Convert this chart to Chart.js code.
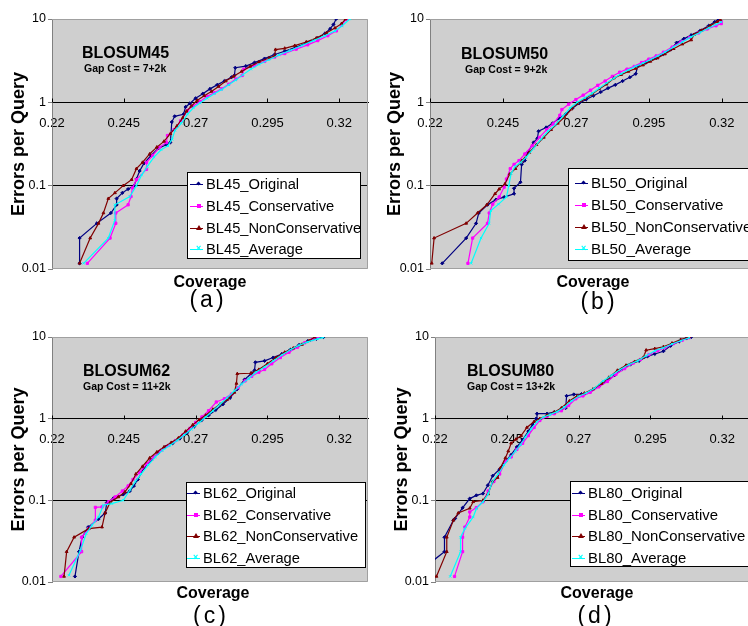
<!DOCTYPE html>
<html lang="en">
<head>
<meta charset="UTF-8">
<title>Errors per Query vs Coverage - BLOSUM matrices</title>
<script src="https://cdn.jsdelivr.net/npm/chart.js"></script>
<style>
  html, body { margin: 0; padding: 0; overflow: hidden; background: #fff; }
  body { position: relative; width: 748px; height: 626px; font-family: Arial, "Liberation Sans", sans-serif; color: #000; }
  canvas { position: absolute; }
  .lbl { position: absolute; white-space: nowrap; }
  .ptitle { font-weight: bold; font-size: 16px; line-height: 16px; }
  .gap { font-weight: bold; font-size: 10.5px; line-height: 10px; }
  .xtitle { font-weight: bold; font-size: 16px; line-height: 16px; transform: translateX(-50%); }
  .letter { font-size: 23px; line-height: 23px; letter-spacing: 3px; transform: translateX(-50%); }
  .legend { position: absolute; background: #fff; border: 1px solid #000; box-sizing: border-box; }
  .legend .row { position: absolute; left: 0; height: 20px; line-height: 20px; white-space: nowrap; }
  .legend .line { position: absolute; top: 10px; height: 1px; }
  .legend .mk { position: absolute; }
</style>
</head>
<body>
<script>
// tick labels and texts
const xTickValues = [0.22, 0.245, 0.27, 0.295, 0.32];
const xTickLabels = ['0.22', '0.245', '0.27', '0.295', '0.32'];
const yTickValues = [0.01, 0.1, 1, 10];
const yTickLabels = ['0.01', '0.1', '1', '10'];
const panelTitles = ['BLOSUM45', 'BLOSUM50', 'BLOSUM62', 'BLOSUM80'];
const gapCosts = ['Gap Cost = 7+2k', 'Gap Cost = 9+2k', 'Gap Cost = 11+2k', 'Gap Cost = 13+2k'];
const panelLetters = ['(a)', '(b)', '(c)', '(d)'];
const seriesPrefixes = ['BL45', 'BL50', 'BL62', 'BL80'];
const seriesSuffixes = ['Original', 'Conservative', 'NonConservative', 'Average'];
const xTitle = 'Coverage';
const yTitle = 'Errors per Query';

// BLOSUM45 : [coverage, errors per query]
const bl45Original = [[0.2296,0.0117],[0.2296,0.0235],[0.2356,0.0353],[0.2405,0.047],[0.2425,0.059],[0.2425,0.07],[0.2445,0.082],[0.2465,0.091],[0.2486,0.1],[0.2494,0.12],[0.2505,0.15],[0.252,0.185],[0.2545,0.23],[0.257,0.28],[0.2598,0.31],[0.2612,0.33],[0.2617,0.58],[0.2627,0.68],[0.2658,0.72],[0.2665,0.88],[0.268,0.97],[0.27,1.12],[0.2725,1.27],[0.275,1.45],[0.2775,1.62],[0.28,1.8],[0.2825,2.0],[0.2835,2.1],[0.2838,2.6],[0.2875,2.72],[0.2905,3.0],[0.294,3.35],[0.2975,3.75],[0.301,4.1],[0.305,4.6],[0.309,5.2],[0.3125,5.9],[0.315,6.7],[0.3168,7.6],[0.318,8.6],[0.3189,10]];
const bl45Conservative = [[0.2323,0.0117],[0.2402,0.0235],[0.2422,0.0353],[0.2422,0.047],[0.2465,0.059],[0.2475,0.074],[0.248,0.094],[0.2494,0.118],[0.2529,0.157],[0.2529,0.19],[0.255,0.23],[0.2575,0.29],[0.2598,0.33],[0.2602,0.4],[0.2625,0.47],[0.2648,0.6],[0.2672,0.8],[0.269,0.9],[0.2715,1.02],[0.274,1.18],[0.2765,1.3],[0.279,1.45],[0.2815,1.65],[0.284,1.9],[0.2862,2.1],[0.2868,2.5],[0.2905,2.75],[0.294,3.1],[0.2975,3.5],[0.301,3.85],[0.305,4.35],[0.309,4.9],[0.3125,5.5],[0.316,6.3],[0.319,7.2],[0.3208,8.4],[0.3225,10]];
const bl45NonConservative = [[0.2296,0.0117],[0.2333,0.0235],[0.2362,0.0353],[0.2379,0.047],[0.2396,0.07],[0.2419,0.082],[0.2448,0.1],[0.2477,0.118],[0.2494,0.16],[0.2515,0.19],[0.254,0.24],[0.2565,0.29],[0.259,0.34],[0.2612,0.42],[0.2635,0.52],[0.2655,0.65],[0.2668,0.78],[0.2685,0.9],[0.2705,1.05],[0.273,1.2],[0.2755,1.35],[0.278,1.55],[0.2805,1.8],[0.2832,2.05],[0.286,2.35],[0.289,2.7],[0.292,3.05],[0.2955,3.4],[0.2975,3.6],[0.2978,4.3],[0.301,4.45],[0.3045,4.8],[0.3085,5.3],[0.312,5.9],[0.3155,6.8],[0.3185,7.8],[0.3208,8.8],[0.3222,10]];
const bl45Average = [[0.231,0.0117],[0.2396,0.0235],[0.2419,0.0385],[0.2419,0.059],[0.2471,0.074],[0.2494,0.1],[0.2512,0.134],[0.2532,0.17],[0.2555,0.22],[0.258,0.27],[0.2603,0.3],[0.2618,0.36],[0.2628,0.46],[0.265,0.56],[0.2672,0.72],[0.2692,0.86],[0.2715,0.98],[0.274,1.12],[0.2765,1.27],[0.279,1.42],[0.2815,1.62],[0.284,1.85],[0.2865,2.15],[0.2892,2.5],[0.292,2.85],[0.2955,3.25],[0.299,3.7],[0.303,4.2],[0.307,4.8],[0.311,5.5],[0.315,6.3],[0.3185,7.2],[0.321,8.3],[0.3237,10]];

// BLOSUM50
const bl50Original = [[0.2242,0.0117],[0.2324,0.0235],[0.2358,0.0353],[0.2367,0.047],[0.2397,0.059],[0.2426,0.068],[0.2454,0.073],[0.2488,0.08],[0.2488,0.093],[0.251,0.11],[0.2514,0.18],[0.2525,0.2],[0.2535,0.25],[0.2555,0.33],[0.2568,0.37],[0.2572,0.45],[0.2598,0.5],[0.262,0.56],[0.2642,0.64],[0.2665,0.72],[0.2688,0.85],[0.271,0.97],[0.2735,1.08],[0.276,1.2],[0.2785,1.33],[0.281,1.48],[0.2835,1.62],[0.286,1.8],[0.2885,2.0],[0.2905,2.2],[0.2912,2.75],[0.294,3.0],[0.2975,3.4],[0.3,3.8],[0.3025,4.3],[0.3045,5.2],[0.307,5.8],[0.3095,6.4],[0.3125,7.2],[0.3155,8.3],[0.3175,9.2],[0.3189,10]];
const bl50Conservative = [[0.233,0.0117],[0.2346,0.0235],[0.2397,0.0353],[0.2403,0.047],[0.2415,0.06],[0.2437,0.073],[0.2454,0.096],[0.2462,0.12],[0.2475,0.16],[0.2488,0.18],[0.2505,0.2],[0.2525,0.24],[0.255,0.3],[0.2575,0.38],[0.26,0.47],[0.2622,0.55],[0.2645,0.7],[0.2652,0.82],[0.2675,0.95],[0.27,1.08],[0.2725,1.22],[0.275,1.4],[0.2775,1.6],[0.28,1.8],[0.2825,2.05],[0.285,2.3],[0.2875,2.5],[0.29,2.7],[0.2925,3.0],[0.295,3.3],[0.2975,3.6],[0.3,4.0],[0.303,4.6],[0.306,5.3],[0.309,6.0],[0.312,6.8],[0.315,7.6],[0.318,8.3],[0.3198,8.8],[0.3198,9.3]];
const bl50NonConservative = [[0.2206,0.0117],[0.2214,0.0235],[0.2324,0.0353],[0.2363,0.047],[0.2395,0.059],[0.2423,0.08],[0.2437,0.091],[0.2457,0.105],[0.2473,0.138],[0.2493,0.16],[0.2515,0.2],[0.254,0.25],[0.2565,0.31],[0.259,0.38],[0.2615,0.47],[0.2638,0.56],[0.266,0.66],[0.2685,0.83],[0.2705,0.97],[0.273,1.1],[0.2755,1.25],[0.278,1.45],[0.2805,1.65],[0.283,1.95],[0.2855,2.15],[0.288,2.35],[0.2905,2.55],[0.293,2.8],[0.2955,3.1],[0.298,3.4],[0.3005,3.8],[0.3035,4.4],[0.3065,5.0],[0.3095,5.6],[0.3105,6.5],[0.313,7.3],[0.316,8.3],[0.3185,9.3],[0.3195,9.8]];
const bl50Average = [[0.2341,0.0117],[0.2375,0.0235],[0.2403,0.0353],[0.2408,0.05],[0.2435,0.06],[0.2462,0.073],[0.247,0.1],[0.2478,0.14],[0.2492,0.17],[0.251,0.19],[0.253,0.22],[0.2555,0.28],[0.258,0.36],[0.2605,0.45],[0.263,0.54],[0.2655,0.68],[0.268,0.85],[0.2705,1.0],[0.273,1.13],[0.2755,1.28],[0.278,1.48],[0.2805,1.7],[0.283,1.95],[0.2855,2.2],[0.288,2.45],[0.2905,2.7],[0.293,2.95],[0.2955,3.25],[0.298,3.6],[0.3005,4.0],[0.3035,4.6],[0.3065,5.3],[0.3095,6.1],[0.3125,6.9],[0.3155,7.8],[0.318,8.6],[0.3198,9.2]];

// BLOSUM62
const bl62Original = [[0.228,0.0117],[0.2294,0.0235],[0.2305,0.0353],[0.2326,0.047],[0.2362,0.059],[0.2385,0.07],[0.2391,0.094],[0.2414,0.106],[0.2448,0.118],[0.2471,0.13],[0.2485,0.15],[0.2499,0.18],[0.252,0.25],[0.2545,0.31],[0.257,0.38],[0.2595,0.45],[0.262,0.5],[0.2645,0.57],[0.267,0.67],[0.2695,0.8],[0.272,0.95],[0.2745,1.1],[0.277,1.28],[0.2795,1.5],[0.282,1.8],[0.2845,2.3],[0.287,3.0],[0.2895,3.6],[0.2905,3.9],[0.2908,4.9],[0.294,5.1],[0.297,5.6],[0.3,6.2],[0.303,7.0],[0.306,8.0],[0.309,8.9],[0.312,9.5],[0.3145,10]];
const bl62Conservative = [[0.2231,0.0117],[0.2303,0.0235],[0.2303,0.0353],[0.2328,0.045],[0.2351,0.057],[0.2351,0.082],[0.2374,0.083],[0.2397,0.096],[0.242,0.11],[0.2445,0.13],[0.2465,0.15],[0.2482,0.18],[0.2505,0.22],[0.253,0.28],[0.2555,0.34],[0.258,0.41],[0.2605,0.47],[0.263,0.54],[0.2655,0.63],[0.268,0.76],[0.27,0.9],[0.2722,1.05],[0.2745,1.25],[0.2772,1.6],[0.28,1.75],[0.2825,2.0],[0.2848,2.4],[0.2872,2.9],[0.2895,3.3],[0.292,3.7],[0.294,4.0],[0.2965,4.7],[0.2995,5.6],[0.3025,6.5],[0.3055,7.5],[0.308,8.5],[0.3105,9.3],[0.3125,10]];
const bl62NonConservative = [[0.2242,0.0117],[0.2251,0.0235],[0.2277,0.0353],[0.2328,0.045],[0.2374,0.047],[0.2385,0.07],[0.2402,0.094],[0.2431,0.11],[0.2454,0.127],[0.2475,0.16],[0.2492,0.21],[0.2515,0.26],[0.254,0.33],[0.2565,0.39],[0.259,0.45],[0.2615,0.51],[0.264,0.58],[0.2665,0.7],[0.269,0.84],[0.2712,0.97],[0.2735,1.1],[0.276,1.3],[0.2785,1.5],[0.281,1.72],[0.2835,2.1],[0.2842,2.7],[0.2845,3.55],[0.2892,3.6],[0.292,4.0],[0.295,4.7],[0.298,5.6],[0.301,6.5],[0.304,7.3],[0.307,8.1],[0.3095,9.0],[0.3115,10]];
const bl62Average = [[0.2259,0.0121],[0.2299,0.0244],[0.2319,0.039],[0.2339,0.0494],[0.2362,0.0625],[0.2379,0.087],[0.2408,0.0913],[0.2448,0.1],[0.2471,0.133],[0.249,0.17],[0.251,0.21],[0.2535,0.27],[0.256,0.34],[0.2585,0.41],[0.261,0.47],[0.2635,0.54],[0.266,0.63],[0.2685,0.74],[0.271,0.88],[0.2735,1.05],[0.276,1.25],[0.2785,1.5],[0.281,1.8],[0.2835,2.2],[0.286,2.65],[0.2885,3.1],[0.291,3.7],[0.294,4.3],[0.297,5.1],[0.3,6.0],[0.303,7.0],[0.306,7.9],[0.309,8.7],[0.3125,9.5],[0.3145,9.9]];

// BLOSUM80
const bl80Original = [[0.2123,0.0117],[0.2233,0.0235],[0.2233,0.0353],[0.2264,0.057],[0.227,0.06],[0.2296,0.081],[0.2321,0.105],[0.2344,0.115],[0.2367,0.121],[0.2384,0.153],[0.2401,0.2],[0.2425,0.24],[0.2445,0.3],[0.2465,0.36],[0.2485,0.45],[0.2505,0.55],[0.2525,0.7],[0.254,0.85],[0.2552,1.0],[0.2555,1.15],[0.259,1.15],[0.2615,1.2],[0.264,1.3],[0.2655,1.35],[0.2658,1.9],[0.2683,1.98],[0.271,2.0],[0.274,2.15],[0.277,2.5],[0.28,2.9],[0.2825,3.4],[0.285,4.0],[0.288,4.6],[0.291,5.1],[0.294,5.8],[0.2965,6.2],[0.2995,6.7],[0.302,7.8],[0.305,8.8],[0.3075,9.6],[0.3092,10]];
const bl80Conservative = [[0.2268,0.0117],[0.2296,0.0235],[0.2296,0.0353],[0.2304,0.047],[0.2321,0.0625],[0.2321,0.072],[0.2344,0.0815],[0.2367,0.096],[0.2385,0.13],[0.2405,0.17],[0.2425,0.21],[0.2445,0.3],[0.2465,0.34],[0.2485,0.42],[0.2505,0.5],[0.2525,0.62],[0.2545,0.78],[0.2565,0.95],[0.259,1.07],[0.2615,1.15],[0.264,1.25],[0.2665,1.45],[0.269,1.75],[0.2715,1.9],[0.274,2.1],[0.277,2.45],[0.28,2.85],[0.283,3.5],[0.286,4.1],[0.289,4.8],[0.2915,5.3],[0.2945,6.1],[0.2975,6.8],[0.3,7.4],[0.303,8.3],[0.306,9.1],[0.3085,9.8]];
const bl80NonConservative = [[0.2205,0.0117],[0.2241,0.0235],[0.2241,0.0353],[0.2264,0.057],[0.2281,0.07],[0.2321,0.08],[0.2333,0.096],[0.2367,0.1],[0.2385,0.12],[0.24,0.17],[0.2418,0.19],[0.2428,0.25],[0.2445,0.33],[0.2455,0.4],[0.2465,0.5],[0.2482,0.56],[0.25,0.62],[0.252,0.78],[0.2545,0.92],[0.2565,1.0],[0.259,1.1],[0.2615,1.2],[0.264,1.35],[0.2668,1.65],[0.2695,1.9],[0.272,2.05],[0.275,2.3],[0.278,2.7],[0.2805,3.2],[0.2835,3.9],[0.2865,4.5],[0.2895,5.0],[0.2925,5.6],[0.2935,6.9],[0.2965,7.2],[0.2995,7.6],[0.3025,8.4],[0.3055,9.3],[0.3085,10]];
const bl80Average = [[0.2253,0.0117],[0.2289,0.0235],[0.2289,0.0353],[0.2304,0.045],[0.2333,0.0625],[0.2344,0.079],[0.2367,0.096],[0.2385,0.12],[0.24,0.17],[0.242,0.21],[0.244,0.27],[0.246,0.33],[0.248,0.4],[0.2498,0.48],[0.2515,0.6],[0.2535,0.75],[0.2555,0.92],[0.2578,1.05],[0.26,1.12],[0.2625,1.22],[0.265,1.38],[0.2675,1.65],[0.27,1.88],[0.2725,2.05],[0.2755,2.35],[0.2785,2.9],[0.2815,3.4],[0.2845,4.0],[0.2875,4.6],[0.2905,5.1],[0.2935,5.9],[0.2965,6.8],[0.2995,7.4],[0.3025,8.2],[0.3055,9.0],[0.3085,9.8]];

const panelSeries = [
  [bl45Original, bl45Conservative, bl45NonConservative, bl45Average],
  [bl50Original, bl50Conservative, bl50NonConservative, bl50Average],
  [bl62Original, bl62Conservative, bl62NonConservative, bl62Average],
  [bl80Original, bl80Conservative, bl80NonConservative, bl80Average]
];

// styling
const seriesColors = ['#000080', '#ff00ff', '#800000', '#00ffff'];
const seriesMarkers = ['rectRot', 'rect', 'triangle', 'crossRot'];

// where each panel sits on the page
const panels = [
  { left: 0,   top: 0,   w: 374, h: 320, yWidth: 52, padTop: 19, padBottom: 51, padRight: 6, titleOff: 8,
    title: [82, 44.5], gap: [84, 62.5], cov: [210, 274], letter: [208, 288], legend: [187, 172, 174, 87], rows: [12, 21.8], textLeft: 18, fs: 14.7 },
  { left: 374, top: 0,   w: 382, h: 320, yWidth: 56, padTop: 19, padBottom: 51, padRight: 0, titleOff: 10,
    title: [461, 46], gap: [465, 63.5], cov: [593, 274], letter: [599, 290], legend: [568, 168, 190, 93], rows: [15, 22], textLeft: 22, fs: 15.2 },
  { left: 0,   top: 320, w: 374, h: 306, yWidth: 52, padTop: 17, padBottom: 44, padRight: 6, titleOff: 8,
    title: [83, 362.5], gap: [83, 380.5], cov: [213, 585], letter: [211, 604], legend: [186, 482, 180, 86], rows: [11, 21.5], textLeft: 16, fs: 14.7 },
  { left: 374, top: 320, w: 382, h: 306, yWidth: 61, padTop: 17, padBottom: 44, padRight: 0, titleOff: 17,
    title: [467, 362.5], gap: [467, 380.5], cov: [597, 585], letter: [596, 604], legend: [570, 481, 190, 86], rows: [12, 21.5], textLeft: 17, fs: 14.9 }
];

Chart.defaults.font.family = 'Arial, "Liberation Sans", sans-serif';
Chart.defaults.color = '#000';

// grey plot area, its frame and the small upward tick marks on the x axis
const plotFrame = {
  id: 'plotFrame',
  beforeDraw(chart) {
    const a = chart.chartArea, ctx = chart.ctx;
    ctx.save();
    ctx.fillStyle = '#cfcfcf';
    ctx.fillRect(a.left, a.top, a.right - a.left, a.bottom - a.top);
    ctx.restore();
  },
  beforeDatasetsDraw(chart) {
    const a = chart.chartArea, ctx = chart.ctx;
    ctx.save();
    ctx.strokeStyle = '#a0a0a0';
    ctx.lineWidth = 1;
    ctx.beginPath();
    ctx.moveTo(a.left, a.top + 0.5);
    ctx.lineTo(a.right - 0.5, a.top + 0.5);
    ctx.lineTo(a.right - 0.5, a.bottom - 0.5);
    ctx.lineTo(a.left, a.bottom - 0.5);
    ctx.stroke();
    const y1 = Math.round(chart.scales.y.getPixelForValue(1)) + 0.5;
    ctx.strokeStyle = '#000';
    ctx.beginPath();
    xTickValues.forEach(v => {
      const px = Math.round(chart.scales.x.getPixelForValue(v)) + 0.5;
      ctx.moveTo(px, y1);
      ctx.lineTo(px, y1 - 4);
    });
    ctx.stroke();
    ctx.restore();
  }
};

function addText(cls, text, x, y) {
  const d = document.createElement('div');
  d.className = 'lbl ' + cls;
  d.textContent = text;
  d.style.left = x + 'px';
  d.style.top = y + 'px';
  document.body.appendChild(d);
}

function addMarker(row, i) {
  const c = seriesColors[i];
  const m = document.createElement('div');
  m.className = 'mk';
  if (i === 0) {
    m.style.cssText = `left:7px;top:8px;width:3px;height:3px;background:${c};transform:rotate(45deg);`;
  } else if (i === 1) {
    m.style.cssText = `left:7px;top:8px;width:4px;height:4px;background:${c};`;
  } else if (i === 2) {
    m.style.cssText = `left:6px;top:7px;width:0;height:0;border-left:3px solid transparent;border-right:3px solid transparent;border-bottom:5px solid ${c};`;
  } else {
    m.style.cssText = `left:6px;top:5px;font-size:9px;line-height:9px;color:${c};font-weight:bold;`;
    m.textContent = '\u00d7';
  }
  row.appendChild(m);
}

panels.forEach((p, k) => {
  const cv = document.createElement('canvas');
  cv.width = p.w;
  cv.height = p.h;
  cv.style.left = p.left + 'px';
  cv.style.top = p.top + 'px';
  document.body.appendChild(cv);

  const datasets = panelSeries[k].map((pts, i) => ({
    label: seriesPrefixes[k] + '_' + seriesSuffixes[i],
    data: pts.map(([x, y]) => ({ x, y })),
    showLine: true,
    borderColor: seriesColors[i],
    backgroundColor: seriesColors[i],
    borderWidth: 1.2,
    pointRadius: 1.6,
    pointBorderWidth: 1,
    pointStyle: seriesMarkers[i],
    order: 3 - i
  }));

  const chart = new Chart(cv, {
    type: 'scatter',
    data: { datasets },
    options: {
      responsive: false,
      animation: false,
      devicePixelRatio: 1,
      layout: { padding: { left: 0, top: p.padTop, right: p.padRight, bottom: p.padBottom } },
      plugins: { legend: { display: false }, tooltip: { enabled: false } },
      scales: {
        x: {
          type: 'linear',
          min: 0.22,
          max: 0.33,
          position: { y: 1 },
          afterBuildTicks: s => { s.ticks = xTickValues.map(v => ({ value: v })); },
          ticks: {
            callback: (v, i) => xTickLabels[i],
            font: { size: 13 },
            padding: 13,
            maxRotation: 0,
            autoSkip: false
          },
          grid: { drawOnChartArea: false, drawTicks: false },
          border: { color: '#000', width: 1 }
        },
        y: {
          type: 'logarithmic',
          min: 0.01,
          max: 10,
          position: 'left',
          afterBuildTicks: s => { s.ticks = yTickValues.map(v => ({ value: v })); },
          afterFit: s => { s.width = p.yWidth; },
          ticks: {
            callback: (v, i) => yTickLabels[i],
            font: { size: 12.5 },
            padding: 2,
            autoSkip: false
          },
          grid: {
            color: c => (c.tick && (c.tick.value === 1 || c.tick.value === 0.1)) ? '#000' : 'rgba(0,0,0,0)',
            tickColor: '#808080',
            tickLength: 4,
            lineWidth: 1
          },
          border: { color: '#808080', width: 1 },
          title: {
            display: true,
            text: yTitle,
            font: { size: 18, weight: 'bold' },
            padding: { top: p.titleOff, bottom: 0 }
          }
        }
      }
    },
    plugins: [plotFrame]
  });

  addText('ptitle', panelTitles[k], p.title[0], p.title[1]);
  addText('gap', gapCosts[k], p.gap[0], p.gap[1]);
  addText('xtitle', xTitle, p.cov[0], p.cov[1]);
  addText('letter', panelLetters[k], p.letter[0], p.letter[1]);

  // legend box built from the chart's datasets
  const lg = document.createElement('div');
  lg.className = 'legend';
  lg.style.left = p.legend[0] + 'px';
  lg.style.top = p.legend[1] + 'px';
  lg.style.width = p.legend[2] + 'px';
  lg.style.height = p.legend[3] + 'px';
  lg.style.fontSize = p.fs + 'px';
  chart.data.datasets.forEach((ds, i) => {
    const row = document.createElement('div');
    row.className = 'row';
    row.style.top = (p.rows[0] + i * p.rows[1] - 11) + 'px';
    row.style.width = '100%';
    const ln = document.createElement('div');
    ln.className = 'line';
    ln.style.left = (p.textLeft - 16) + 'px';
    ln.style.width = '13px';
    ln.style.background = ds.borderColor;
    row.appendChild(ln);
    const mkWrap = document.createElement('div');
    mkWrap.style.cssText = `position:absolute;left:${p.textLeft - 16}px;top:0;width:13px;height:20px;`;
    addMarker(mkWrap, i);
    row.appendChild(mkWrap);
    const t = document.createElement('span');
    t.style.cssText = `position:absolute;left:${p.textLeft}px;top:0;`;
    t.textContent = ds.label;
    row.appendChild(t);
    lg.appendChild(row);
  });
  document.body.appendChild(lg);
});
</script>
</body>
</html>
